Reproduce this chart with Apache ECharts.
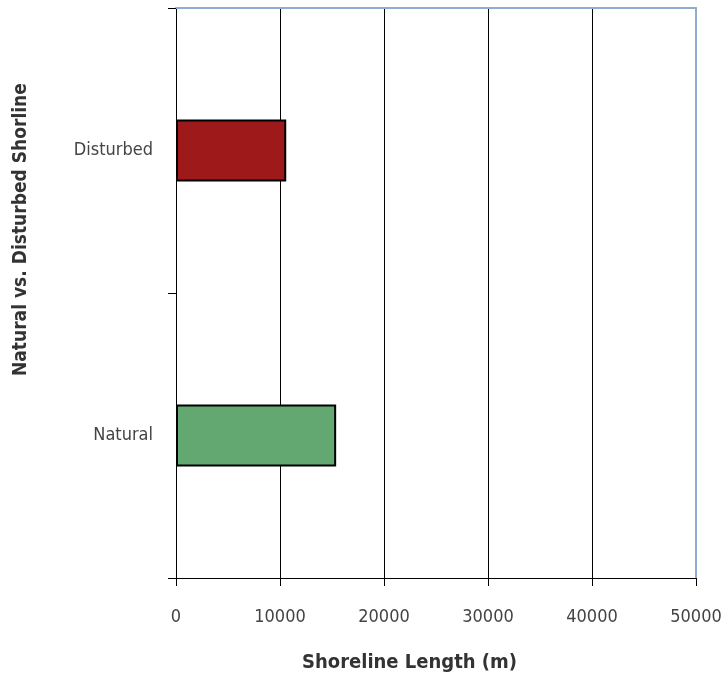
<!DOCTYPE html>
<html>
<head>
<meta charset="utf-8">
<script src="https://cdn.jsdelivr.net/npm/echarts@6/dist/echarts.min.js"></script>
<style>html,body{margin:0;padding:0;background:#fff}#c{width:722px;height:684px}</style>
</head>
<body>
<div id="c"></div>
<script>
var categories = ['Natural', 'Disturbed'];
var values = [15400, 10600];
var barColors = ['#62a870', '#9e1a1a'];
var xTicks = [0, 10000, 20000, 30000, 40000, 50000];
var xTitle = 'Shoreline Length (m)';
var yTitle = 'Natural vs. Disturbed Shorline';

var narrow = '"Liberation Sans Narrow","Arial Narrow","DejaVu Sans Condensed",sans-serif';
var chart = echarts.init(document.getElementById('c'));
chart.setOption({
  animation: false,
  backgroundColor: '#fff',
  grid: { left: 176, right: 26, top: 8, bottom: 106, containLabel: false, outerBoundsMode: 'none' },
  xAxis: [{
    type: 'value', min: xTicks[0], max: xTicks[xTicks.length - 1], interval: xTicks[1] - xTicks[0],
    axisLine: { show: true, onZero: false, lineStyle: { color: '#000', width: 1 } },
    axisTick: { show: true, length: 8, lineStyle: { color: '#000' } },
    axisLabel: { color: '#444', fontFamily: narrow, fontSize: 18, margin: 30,
      formatter: function (v) { return String(v); } },
    splitLine: { show: true, lineStyle: { color: '#000', width: 1 } }
  }, {
    type: 'value', position: 'top', min: 0, max: 1,
    axisLine: { show: true, onZero: false, lineStyle: { color: '#8eacd2', width: 2 } },
    axisTick: { show: false }, axisLabel: { show: false }, splitLine: { show: false }
  }],
  yAxis: [{
    type: 'category', data: categories,
    axisLine: { show: true, onZero: false, lineStyle: { color: '#000', width: 1 } },
    axisTick: { show: true, length: 8, lineStyle: { color: '#000' } },
    axisLabel: { color: '#444', fontFamily: narrow, fontSize: 18, margin: 23 },
    splitLine: { show: false }
  }, {
    type: 'value', position: 'right', min: 0, max: 1,
    axisLine: { show: true, onZero: false, lineStyle: { color: '#8eacd2', width: 2 } },
    axisTick: { show: false }, axisLabel: { show: false }, splitLine: { show: false }
  }],
  series: [{
    type: 'bar', xAxisIndex: 0, yAxisIndex: 0, barWidth: 62,
    data: values.map(function (v, i) {
      return { value: v, itemStyle: { color: barColors[i], borderColor: '#000', borderWidth: 2 } };
    })
  }],
  graphic: [{
    type: 'text', left: 302, top: 653,
    style: { text: xTitle, fontFamily: narrow, fontWeight: 'bold', fontSize: 20, fill: '#333' }
  }, {
    type: 'text', rotation: Math.PI / 2, x: 12, y: 376,
    style: { text: yTitle, fontFamily: narrow, fontWeight: 'bold', fontSize: 19, fill: '#333' }
  }]
});
</script>
</body>
</html>
